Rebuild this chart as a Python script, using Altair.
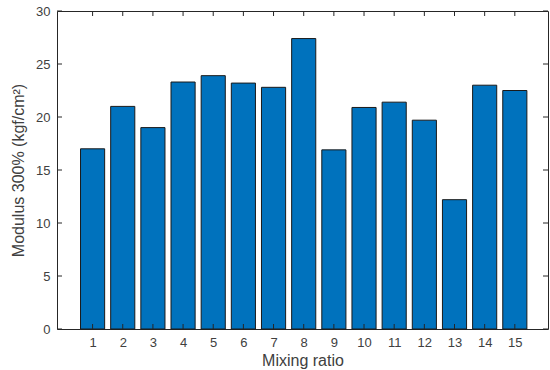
import altair as alt
import pandas as pd

mixing_ratio = list(range(1, 16))
modulus = [17.0, 21.0, 19.0, 23.3, 23.9, 23.2, 22.8, 27.4, 16.9, 20.9, 21.4, 19.7, 12.2, 23.0, 22.5]
y_ticks = [0, 5, 10, 15, 20, 25, 30]

W, H = 491, 318
df = pd.DataFrame({"ratio": mixing_ratio, "modulus": modulus})
yt = pd.DataFrame({"v": y_ticks})

xscale = alt.Scale(domain=[-0.18, 16.1], nice=False, zero=False)
yscale = alt.Scale(domain=[0, 30], nice=False)
xaxis = alt.Axis(values=mixing_ratio, title="Mixing ratio")
yaxis = alt.Axis(values=y_ticks, title="Modulus 300% (kgf/cm²)")

bars = alt.Chart(df).transform_calculate(
    x0="datum.ratio - 0.4", x1="datum.ratio + 0.4"
).mark_bar(color="#0072BD", stroke="#1a1a1a", strokeWidth=1).encode(
    x=alt.X("x0:Q", scale=xscale, axis=xaxis),
    x2="x1:Q",
    y=alt.Y("modulus:Q", scale=yscale, axis=yaxis),
    y2=alt.datum(0),
)

tick_color = "#262626"
left_ticks = alt.Chart(yt).mark_rule(color=tick_color, strokeWidth=1).encode(
    y=alt.Y("v:Q", scale=yscale, axis=yaxis), x=alt.value(0), x2=alt.value(5)
)
right_ticks = alt.Chart(yt).mark_rule(color=tick_color, strokeWidth=1).encode(
    y=alt.Y("v:Q", scale=yscale, axis=yaxis), x=alt.value(W - 5), x2=alt.value(W)
)
bottom_ticks = alt.Chart(df).mark_rule(color=tick_color, strokeWidth=1).encode(
    x=alt.X("ratio:Q", scale=xscale, axis=xaxis), y=alt.value(H), y2=alt.value(H - 5)
)
top_ticks = alt.Chart(df).mark_rule(color=tick_color, strokeWidth=1).encode(
    x=alt.X("ratio:Q", scale=xscale, axis=xaxis), y=alt.value(0), y2=alt.value(5)
)

chart = alt.layer(bars, left_ticks, right_ticks, bottom_ticks, top_ticks).properties(
    width=W, height=H,
    autosize=alt.AutoSizeParams(type="none"),
    padding={"left": 57, "top": 11, "right": 2, "bottom": 41},
    background="white",
).configure_view(
    stroke=tick_color, strokeWidth=1
).configure_axis(
    domain=False, ticks=False, grid=False,
    labelFont="Liberation Sans", labelFontSize=13, labelColor="#404040",
    titleFont="Liberation Sans", titleFontSize=16, titleColor="#404040",
    titleFontWeight="normal", labelPadding=7,
).configure_axisX(titlePadding=3).configure_axisY(titlePadding=9)

chart.save("out.html", embed_options={"renderer": "svg", "actions": False})
